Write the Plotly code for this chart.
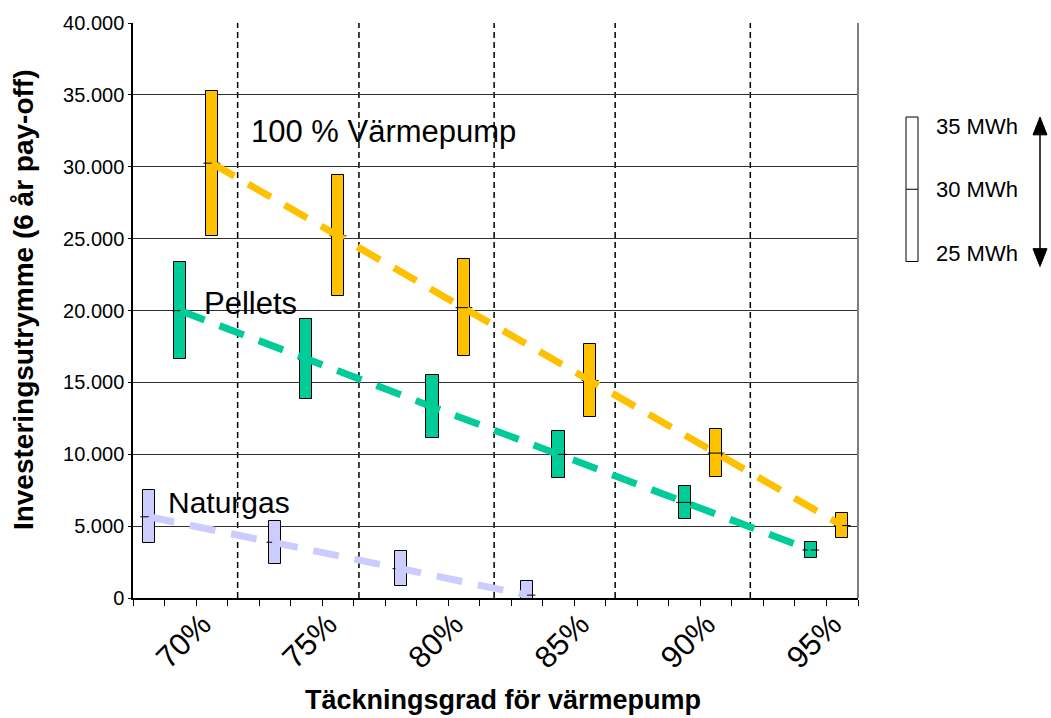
import plotly.graph_objects as go

# ---------------- data ----------------
categories = [70, 75, 80, 85, 90, 95]
tick_labels = ["70%", "75%", "80%", "85%", "90%", "95%"]

# Värmepump (100 %): low (25 MWh), mid (30 MWh), high (35 MWh)
vp_low = [25200, 21000, 16850, 12620, 8400, 4180]
vp_mid = [30250, 25200, 20200, 15130, 10080, 5040]
vp_high = [35300, 29400, 23550, 17650, 11750, 5900]

# Pellets
pe_low = [16640, 13820, 11100, 8350, 5530, 2800]
pe_mid = [19990, 16610, 13290, 9990, 6650, 3340]
pe_high = [23340, 19400, 15510, 11640, 7760, 3880]

# Naturgas (only up to 85 %)
ng_cats = [70, 75, 80, 85]
ng_low = [3860, 2390, 850, -800]
ng_mid = [5650, 3880, 2040, 200]
ng_high = [7480, 5390, 3300, 1190]

y_tickvals = [0, 5000, 10000, 15000, 20000, 25000, 30000, 35000, 40000]
y_ticktext = ["0", "5.000", "10.000", "15.000", "20.000", "25.000", "30.000", "35.000", "40.000"]

separators = [71.65, 76.46, 81.82, 86.62, 91.98]

legend_labels = ["35 MWh", "30 MWh", "25 MWh"]

# ---------------- style ----------------
C_VP = "#FFC000"
C_PE = "#00CC99"
C_NG = "#CCCCFF"
FONT = "Liberation Sans, Arial, sans-serif"

OFFSETS = {"ng": -1.875, "pe": -0.625, "vp": 0.625}
BAR_W = 0.48

# plot area in pixels
W, H = 1051, 718
L, R, T, B = 133, 858, 17, 598


def px(xp):
    return (xp - L) / (R - L)


def py(yp):
    return (B - yp) / (B - T)


fig = go.Figure()


def add_series(cats, low, mid, high, color, key):
    xs = [c + OFFSETS[key] for c in cats]
    fig.add_trace(go.Bar(
        x=xs, y=[h - l for h, l in zip(high, low)], base=low, width=BAR_W,
        marker=dict(color=color, line=dict(color="black", width=1)),
        showlegend=False, hoverinfo="skip"))
    fig.add_trace(go.Scatter(
        x=xs, y=mid, mode="markers",
        marker=dict(symbol="line-ew", size=12, line=dict(color="black", width=1)),
        showlegend=False, hoverinfo="skip"))
    return xs


xs_ng = add_series(ng_cats, ng_low, ng_mid, ng_high, C_NG, "ng")
xs_pe = add_series(categories, pe_low, pe_mid, pe_high, C_PE, "pe")
xs_vp = add_series(categories, vp_low, vp_mid, vp_high, C_VP, "vp")

for xs, mid, color in [(xs_ng, ng_mid, C_NG), (xs_pe, pe_mid, C_PE), (xs_vp, vp_mid, C_VP)]:
    fig.add_trace(go.Scatter(
        x=xs, y=mid, mode="lines",
        line=dict(color=color, width=7, dash="26px,16px"),
        showlegend=False, hoverinfo="skip"))

shapes = []
for s in separators:
    shapes.append(dict(type="line", xref="x", yref="y", x0=s, x1=s, y0=0, y1=40000,
                       line=dict(color="black", width=1.5, dash="6px,4px"), layer="below"))
# right border
shapes.append(dict(type="line", xref="paper", yref="paper", x0=1, x1=1, y0=0, y1=1,
                   line=dict(color="#808080", width=2)))
# legend box
shapes.append(dict(type="rect", xref="paper", yref="paper",
                   x0=px(906), x1=px(918), y0=py(258), y1=py(112),
                   line=dict(color="black", width=1), fillcolor="white"))
shapes.append(dict(type="line", xref="paper", yref="paper",
                   x0=px(906), x1=px(918), y0=py(185), y1=py(185),
                   line=dict(color="black", width=1)))
# double arrow
shapes.append(dict(type="line", xref="paper", yref="paper",
                   x0=px(1040), x1=px(1040), y0=py(128), y1=py(246),
                   line=dict(color="black", width=1.5)))
up = f"M {px(1040)} {py(112)} L {px(1033)} {py(130)} L {px(1047)} {py(130)} Z"
dn = f"M {px(1040)} {py(263)} L {px(1033)} {py(245)} L {px(1047)} {py(245)} Z"
for p in (up, dn):
    shapes.append(dict(type="path", xref="paper", yref="paper", path=p,
                       fillcolor="black", line=dict(color="black", width=1)))

annotations = [
    dict(text="100 % Värmepump", x=px(249), y=py(127), xref="paper", yref="paper",
         xanchor="left", yanchor="middle", showarrow=False, font=dict(size=31, color="black", family=FONT)),
    dict(text="Pellets", x=px(202), y=py(300), xref="paper", yref="paper",
         xanchor="left", yanchor="middle", showarrow=False, font=dict(size=31, color="black", family=FONT)),
    dict(text="Naturgas", x=px(166), y=py(502), xref="paper", yref="paper",
         xanchor="left", yanchor="middle", showarrow=False, font=dict(size=30, color="black", family=FONT)),
    dict(text="<b>Täckningsgrad för värmepump</b>", x=px(503), y=py(701), xref="paper", yref="paper",
         xanchor="center", yanchor="middle", showarrow=False, font=dict(size=27, color="black", family=FONT)),
    dict(text="<b>Investeringsutrymme (6 år pay-off)</b>", x=px(23), y=py(297), xref="paper", yref="paper",
         xanchor="center", yanchor="middle", textangle=-90, showarrow=False,
         font=dict(size=28, color="black", family=FONT)),
]
for lab, yp in zip(legend_labels, [122, 185, 250]):
    annotations.append(dict(text=lab, x=px(934), y=py(yp), xref="paper", yref="paper",
                            xanchor="left", yanchor="middle", showarrow=False,
                            font=dict(size=22, color="black", family=FONT)))

fig.update_layout(
    width=W, height=H,
    margin=dict(l=L, r=W - R, t=T, b=H - B, pad=0),
    paper_bgcolor="white", plot_bgcolor="white",
    font=dict(family=FONT, color="black"),
    barmode="overlay", bargap=0,
    shapes=shapes, annotations=annotations,
    xaxis=dict(range=[67.5, 96.25], tickvals=categories, ticktext=tick_labels,
               tickangle=-45, tickfont=dict(size=31, family=FONT),
               ticklabelstandoff=-12, ticklabelshift=6,
               ticks="outside", ticklen=6, tickcolor="black", tickwidth=1,
               minor=dict(tick0=67.5, dtick=1.25, ticks="outside", ticklen=6, tickcolor="black", tickwidth=1),
               showline=True, linecolor="black", linewidth=1.5,
               showgrid=False, zeroline=False, fixedrange=True),
    yaxis=dict(range=[0, 40000], tickvals=y_tickvals, ticktext=y_ticktext,
               tickfont=dict(size=20, family=FONT),
               ticks="outside", ticklen=3, tickcolor="black",
               showline=True, linecolor="black", linewidth=1.5,
               showgrid=True, gridcolor="#303030", gridwidth=1,
               zeroline=False, fixedrange=True),
)

fig.write_html("out.html")
